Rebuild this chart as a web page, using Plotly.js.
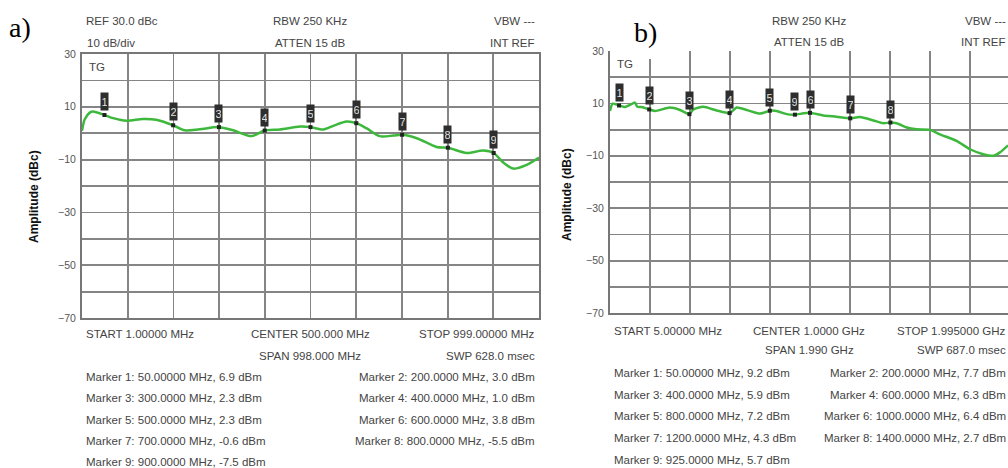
<!DOCTYPE html>
<html><head><meta charset="utf-8">
<script src="https://cdn.plot.ly/plotly-3.0.1.min.js"></script>
<style>html,body{margin:0;padding:0;background:#fff}#chart{width:1008px;height:468px}</style>
</head><body><div id="chart"></div>
<script>
// ---------- Panel a data ----------
const freqA = [1,7,18,25,50,69,98,134,163,200,225,258,300,331,371,400,433,477,500,528,550,579,600,622,651,681,700,732,775,800,841,877,900,921,943,972,999];
const ampA  = [0.9,5.3,7.8,8.2,6.9,5.7,4.7,5.4,5.1,3.0,1.1,1.5,2.3,1.1,-1.1,1.0,1.4,2.5,2.3,1.4,2.8,4.4,3.8,1.9,-1.1,-0.9,-0.6,-1.9,-5.2,-5.5,-7.5,-6.6,-7.5,-11.1,-13.4,-12.0,-9.2];
const markerFreqA = [50,200,300,400,500,600,700,800,900];
const markerValA  = [6.9,3.0,2.3,1.0,2.3,3.8,-0.6,-5.5,-7.5];
const headerA = ["REF 30.0 dBc","10 dB/div","RBW 250 KHz","ATTEN 15 dB","VBW ---","INT REF"];
const footerA = ["START 1.00000 MHz","CENTER 500.000 MHz","STOP 999.00000 MHz","SPAN 998.000 MHz","SWP 628.0 msec"];

// ---------- Panel b data ----------
const freqB = [5,18,50,80,104,129,141,163,200,229,303,353,400,420,469,536,600,635,685,751,800,834,884,925,967,1000,1066,1132,1200,1248,1315,1365,1400,1431,1481,1530,1597,1646,1729,1796,1862,1912,1945,1985];
const ampB  = [7.1,9.9,9.2,8.6,9.4,10.3,8.7,8.6,7.7,7.1,8.4,7.5,5.9,7.7,8.7,7.3,6.3,8.4,7.5,6.1,7.2,7.1,5.9,5.7,6.2,6.4,5.4,4.9,4.3,4.8,3.5,2.4,2.7,2.4,0.8,0.1,-0.1,-1.8,-4.3,-7.5,-9.4,-10.0,-8.7,-6.0];
const markerFreqB = [50,200,400,600,800,1000,1200,1400,925];
const markerValB  = [9.2,7.7,5.9,6.3,7.2,6.4,4.3,2.7,5.7];
const headerB = ["RBW 250 KHz","ATTEN 15 dB","VBW ---","INT REF"];
const footerB = ["START 5.00000 MHz","CENTER 1.0000 GHz","STOP 1.995000 GHz","SPAN 1.990 GHz","SWP 687.0 msec"];
const yTitle = "Amplitude (dBc)";

const W = 1008, H = 468;
const px = x => x / W, py = y => 1 - y / H;
const GREEN = '#3db83d', GRID = '#858585', BORDER = '#777777', TXT = '#444444';
const FONT = 'Liberation Sans, Arial, sans-serif';

function fmtFreq(f){ return f < 100 ? f.toFixed(5) : f.toFixed(4); }
function markerLine(i, f, v){ return 'Marker ' + (i+1) + ': ' + fmtFreq(f) + ' MHz, ' + v.toFixed(1) + ' dBm'; }

const ann = [];
function txt(text, x, y, xanchor, size, opts){
  ann.push(Object.assign({text, x: px(x), y: py(y), xref:'paper', yref:'paper', xanchor, yanchor:'middle',
    showarrow:false, font:{family:FONT, size: size || 11.5, color:TXT}}, opts || {}));
}

// Panel labels
const serif = {family:'Liberation Serif, Times New Roman, serif', size:28, color:'#000'};
txt('a)', 7, 27, 'left', 28, {font:serif});
txt('b)', 632, 33, 'left', 28, {font:serif});

// Y axis titles (placed like the reference)
const titleFont = {family:FONT, size:12, color:'#111', weight:'bold'};
txt(yTitle, 34, 197, 'center', 12, {textangle:-90, font:titleFont});
txt(yTitle, 567, 195, 'center', 12, {textangle:-90, font:titleFont});

// Panel a header / footer
txt(headerA[0], 84, 21, 'left'); txt(headerA[1], 85, 43, 'left');
txt(headerA[2], 310, 21, 'center'); txt(headerA[3], 310, 43, 'center');
txt(headerA[4], 537, 21, 'right'); txt(headerA[5], 537, 43, 'right');
txt(footerA[0], 84, 334, 'left'); txt(footerA[1], 310, 334, 'center'); txt(footerA[2], 537, 334, 'right');
txt(footerA[3], 310, 356, 'center'); txt(footerA[4], 537, 356, 'right');
const rowsA = [377, 398, 420, 441, 462];
markerFreqA.forEach((f, i) => {
  const r = rowsA[Math.floor(i/2)];
  if (i % 2 === 0) txt(markerLine(i, f, markerValA[i]), 84, r, 'left');
  else txt(markerLine(i, f, markerValA[i]), 537, r, 'right');
});
txt('TG', 87, 67, 'left', 11.5);

// Panel b header / footer
txt(headerB[0], 809, 21, 'center'); txt(headerB[1], 809, 42, 'center');
txt(headerB[2], 1008, 21, 'right'); txt(headerB[3], 1008, 42, 'right');
txt(footerB[0], 612, 331, 'left'); txt(footerB[1], 809, 331, 'center'); txt(footerB[2], 1008, 331, 'right');
txt(footerB[3], 809, 350, 'center'); txt(footerB[4], 1008, 350, 'right');
const rowsB = [373, 395, 416, 438, 460];
markerFreqB.forEach((f, i) => {
  const r = rowsB[Math.floor(i/2)];
  if (i % 2 === 0) txt(markerLine(i, f, markerValB[i]), 612, r, 'left');
  else txt(markerLine(i, f, markerValB[i]), 1008, r, 'right');
});
txt('TG', 615, 64, 'left', 11.5);

// Marker number boxes
function markerBoxes(freqs, vals, xr, yr){
  freqs.forEach((f, i) => {
    ann.push({text: String(i+1), x: f, y: vals[i], xref: xr, yref: yr, showarrow:false,
      xanchor:'center', yanchor:'bottom', yshift:4, width:5, height:15, borderpad:1, valign:'middle',
      bgcolor:'#2e2e2e', font:{family:'Liberation Sans Narrow, ' + FONT, size:11, color:'#e0e0e0'}});
  });
}
markerBoxes(markerFreqA, markerValA, 'x', 'y');
markerBoxes(markerFreqB, markerValB, 'x2', 'y2');

const traces = [
  {x: freqA, y: ampA, xaxis:'x', yaxis:'y', mode:'lines', line:{color:GREEN, width:2.5, shape:'spline', smoothing:0.8}, hoverinfo:'skip'},
  {x: markerFreqA, y: markerValA, xaxis:'x', yaxis:'y', mode:'markers', marker:{symbol:'square', size:4, color:'#222'}, hoverinfo:'skip'},
  {x: freqB, y: ampB, xaxis:'x2', yaxis:'y2', mode:'lines', line:{color:GREEN, width:2.5, shape:'spline', smoothing:0.6}, hoverinfo:'skip'},
  {x: markerFreqB, y: markerValB, xaxis:'x2', yaxis:'y2', mode:'markers', marker:{symbol:'square', size:4, color:'#222'}, hoverinfo:'skip'}
];

function yax(domain, anchor, mirror){
  return {domain, anchor, range:[-70,30], tickmode:'linear', tick0:-70, dtick:20, ticks:'',
    showgrid:true, gridcolor:GRID, gridwidth:1.8,
    minor:{tickmode:'linear', tick0:-70, dtick:10, showgrid:true, gridcolor:GRID, gridwidth:1.8},
    showline:true, linecolor:BORDER, linewidth:2, mirror: mirror, zeroline:false,
    tickfont:{family:FONT, size:10.5, color:'#555'}, ticklabelstandoff:2,
    fixedrange:true, automargin:false};
}
function xax(domain, anchor, range, tick0, dtick, mirror){
  return {domain, anchor, range, tickmode:'linear', tick0, dtick, ticks:'', showticklabels:false,
    showgrid:true, gridcolor:GRID, gridwidth:1.8, showline:true, linecolor:BORDER, linewidth:2,
    mirror: mirror, zeroline:false, fixedrange:true, automargin:false};
}

const layout = {
  width: W, height: H, margin:{l:0, r:0, t:0, b:0}, paper_bgcolor:'#fff', plot_bgcolor:'#fff',
  showlegend:false,
  xaxis: xax([px(82), px(539)], 'y', [1, 999], 1, 99.8, true),
  yaxis: yax([py(318), py(54)], 'x', true),
  xaxis2: xax([px(610), 1], 'y2', [5, 1985], 5, 199, false),
  yaxis2: yax([py(313), py(51)], 'x2', false),
  shapes: [
    {type:'rect', xref:'paper', yref:'paper', x0:px(612), x1:px(688), y0:py(59), y1:1, fillcolor:'#fff', line:{width:0}, layer:'above'}
  ],
  annotations: ann
};

Plotly.newPlot('chart', traces, layout, {staticPlot:true, displayModeBar:false});
</script>
</body></html>
